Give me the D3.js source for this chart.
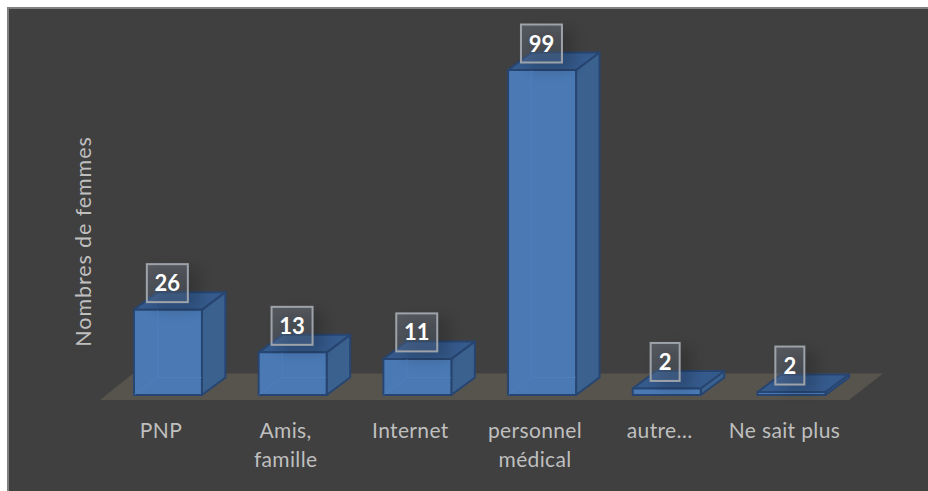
<!DOCTYPE html>
<html><head><meta charset="utf-8">
<script src="https://cdn.jsdelivr.net/npm/d3@7"></script>
<style>html,body{margin:0;padding:0;background:#fff}svg{display:block}</style>
</head><body><svg id="c" width="928" height="491"></svg>
<script>
const categories=["PNP",["Amis,","famille"],"Internet",["personnel","médical"],"autre…","Ne sait plus"];
const labelValues=[26,13,11,99,2,2];
const barHeights=[26,13,11,99,2,0.9];
const axisTitle="Nombres de femmes";

const W=928,H=491;
const svg=d3.select("#c");
const defs=svg.append("defs");
const blur=defs.append("filter").attr("id","sh").attr("x","-60%").attr("y","-60%").attr("width","220%").attr("height","220%");
blur.append("feGaussianBlur").attr("stdDeviation",7);
const g=defs.append("linearGradient").attr("id","box").attr("x1",0).attr("x2",0).attr("y1",0).attr("y2",1);
g.append("stop").attr("offset",0).attr("stop-color","#8a94a3").attr("stop-opacity",.3);
g.append("stop").attr("offset",1).attr("stop-color","#5c6f8c").attr("stop-opacity",.3);

svg.append("rect").attr("x",7).attr("y",7).attr("width",W-7).attr("height",H-7).attr("fill","#404040");
svg.append("path").attr("d",`M8,${H}V8H${W}`).attr("fill","none").attr("stroke","#808080").attr("stroke-width",2);

const x=d3.scaleBand().domain(d3.range(barHeights.length)).range([105.6,853.8]).paddingInner(0.4547).paddingOuter(0.2273);
const y=d3.scaleLinear().domain([0,99]).range([395,70]);
const bw=x.bandwidth(),dx=23.5,dy=17.5;

svg.append("path").attr("d",`M100,400 L133,373.4 H883 L849,400 Z`).attr("fill","#57544d");

const bars=svg.append("g").selectAll("g").data(barHeights).join("g");
bars.each(function(v,i){
  const s=d3.select(this),l=x(i),r=l+bw,b=y(0),t=y(v);
  const p=(d,f)=>s.append("path").attr("d",d).attr("fill",f).attr("stroke","#274570").attr("stroke-width",2).attr("stroke-linejoin","round");
  p(`M${r},${b}L${r+dx},${b-dy}V${t-dy}L${r},${t}Z`,"#3b618f");
  p(`M${l},${t}L${l+dx},${t-dy}H${r+dx}L${r},${t}Z`,"#355a8c");
  p(`M${l},${t}H${r}V${b}H${l}Z`,"#4a79b4");
  if(b-t>20) s.append("path").attr("d",`M${l},${b}L${l+dx},${b-dy}H${r}M${l+dx},${b-dy}V${t}`).attr("fill","none").attr("stroke","#5688c4").attr("stroke-width",1).attr("opacity",.45);
});

const labels=svg.append("g").selectAll("g").data(labelValues).join("g");
labels.each(function(v,i){
  const s=d3.select(this);
  const w=v>=10?41:29, h=38;
  const cx=x(i)+bw/2+(v<10?-1:0)-0.6, top=y(barHeights[i])-45.5;
  s.append("rect").attr("x",cx-w/2+8).attr("y",top+4).attr("width",w+4).attr("height",h+4).attr("fill","#000").attr("opacity",.16).attr("filter","url(#sh)");
  s.append("rect").attr("x",cx-w/2).attr("y",top).attr("width",w).attr("height",h)
   .attr("fill","url(#box)").attr("stroke","#9ea3aa").attr("stroke-width",2);
  s.append("text").attr("x",cx).attr("y",top+h/2+8).attr("text-anchor","middle")
   .attr("font-family","Lato,sans-serif").attr("font-weight",700).attr("font-size",22).attr("fill","#fff").text(v);
});

const font="Lato,sans-serif";
svg.append("g").selectAll("text").data(categories).join("text")
 .attr("font-family",font).attr("font-size",21).attr("letter-spacing",0.35).attr("fill","#bfbfbf").attr("text-anchor","middle")
 .each(function(c,i){
   const lines=Array.isArray(c)?c:[c];
   d3.select(this).selectAll("tspan").data(lines).join("tspan")
    .attr("x",x(i)+bw/2-7).attr("y",(d,k)=>438+k*28.5).text(d=>d);
 });
svg.append("text").attr("transform","translate(91,241.5) rotate(-90)").attr("text-anchor","middle")
 .attr("font-family",font).attr("font-size",21.5).attr("letter-spacing",0.9).attr("fill","#bfbfbf").text(axisTitle);
</script></body></html>
